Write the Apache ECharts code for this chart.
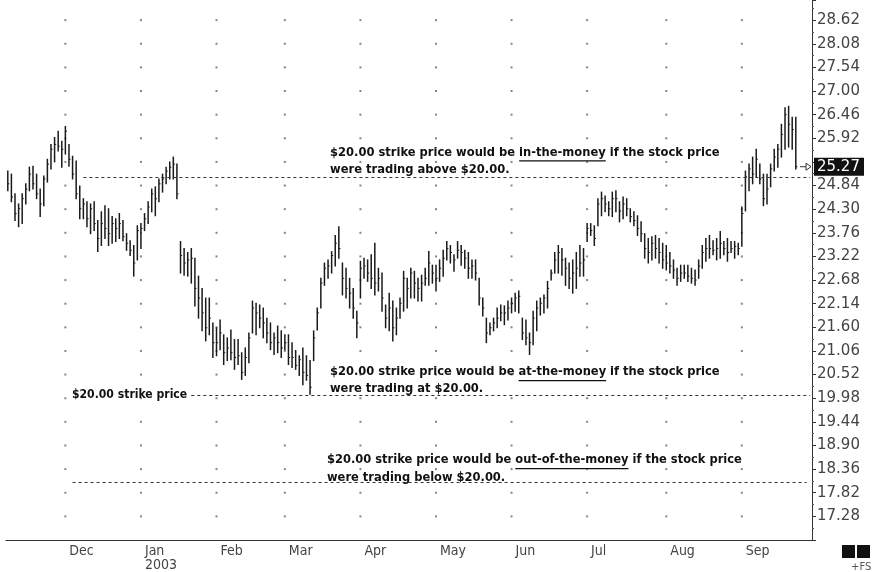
<!DOCTYPE html>
<html>
<head>
<meta charset="utf-8">
<script src="https://cdn.jsdelivr.net/npm/echarts@6/dist/echarts.min.js"></script>
<style>
  html, body { margin: 0; padding: 0; background: #fff; }
  #chart { width: 874px; height: 572px; }
</style>
</head>
<body>
<div id="chart"></div>
<script>
// --- trading calendar ---
const firstDay = '2002-11-07';
const lastDay = '2003-09-23';
const holidays = ['2002-11-28', '2002-12-25', '2003-01-01', '2003-01-20', '2003-02-17',
  '2003-04-18', '2003-05-26', '2003-07-04', '2003-09-01'];
const padDays = 4; // empty room before the price axis
const monthNames = ['Jan', 'Feb', 'Mar', 'Apr', 'May', 'Jun', 'Jul', 'Aug', 'Sep', 'Oct', 'Nov', 'Dec'];

// --- price axis ---
const priceMin = 16.74;
const priceMax = 29.08;
const priceStep = 0.54;
const priceTicks = [17.28, 17.82, 18.36, 18.90, 19.44, 19.98, 20.52, 21.06, 21.60, 22.14, 22.68,
  23.22, 23.76, 24.30, 24.84, 25.38, 25.92, 26.46, 27.00, 27.54, 28.08, 28.62];

// --- daily bars ---
const highs = [
  25.17, 25.10, 24.65, 24.42, 24.65, 24.88, 25.26, 25.28, 25.10, 24.76, 25.06, 25.44, 25.78, 25.94, 26.08, 25.85,
  26.19, 25.78, 25.51, 25.40, 24.83, 24.54, 24.47, 24.42, 24.47, 24.04, 24.24, 24.38, 24.31, 24.13, 24.08, 24.20, 24.04, 23.74, 23.58, 23.47, 23.92,
  23.97, 24.20, 24.47, 24.76, 24.81, 24.99, 25.10, 25.26, 25.38, 25.49, 25.33, 23.56, 23.40, 23.31, 23.40, 23.18, 22.77, 22.49, 22.27, 22.27, 21.70,
  21.59, 21.77, 21.43, 21.36, 21.54, 21.32, 21.32, 21.02, 21.13, 21.47, 22.20, 22.15, 22.11, 22.04, 21.81, 21.70, 21.47, 21.63, 21.52,
  21.43, 21.43, 21.25, 21.07, 20.95, 21.13, 20.95, 20.84, 21.52, 22.04, 22.72, 23.07, 23.14, 23.33, 23.70, 23.90, 23.07, 22.95, 22.72, 22.49, 21.97,
  23.11, 23.18, 23.14, 23.26, 23.52, 22.95, 22.84, 22.11, 22.38, 22.20, 22.04, 22.27, 22.88, 22.72, 22.95, 22.88, 22.72, 22.79, 22.95, 23.33, 23.02,
  23.02, 23.14, 23.36, 23.56, 23.47, 23.26, 23.56, 23.47, 23.36, 23.31, 23.14, 23.14, 22.72, 22.27, 21.81, 21.70, 21.81, 22.04, 22.11, 22.09, 22.20,
  22.27, 22.38, 22.43, 21.81, 21.77, 21.47, 21.97, 22.20, 22.27, 22.34, 22.65, 22.91, 23.31, 23.47, 23.40, 23.18, 23.07, 23.14, 23.31, 23.47, 23.40,
  23.97, 23.97, 23.92, 24.54, 24.69, 24.60, 24.47, 24.69, 24.72, 24.47, 24.58, 24.54, 24.31, 24.24, 24.15, 24.01, 23.74, 23.63, 23.67, 23.70, 23.63, 23.52,
  23.47, 23.31, 23.14, 22.95, 23.02, 23.02, 23.02, 22.95, 22.91, 23.14, 23.47, 23.63, 23.70, 23.58, 23.63, 23.79, 23.56, 23.63, 23.56, 23.56, 23.52,
  24.35, 25.17, 25.33, 25.49, 25.67, 25.33, 25.10, 25.10, 25.33, 25.67, 25.78, 26.24, 26.62, 26.65, 26.40, 26.40
];
const lows = [
  24.72, 24.47, 24.04, 23.90, 23.97, 24.42, 24.72, 24.76, 24.54, 24.13, 24.38, 24.92, 25.22, 25.38, 25.63, 25.26,
  25.56, 25.28, 24.99, 24.54, 24.08, 24.08, 23.90, 23.74, 23.81, 23.33, 23.47, 23.63, 23.47, 23.52, 23.56, 23.63, 23.58, 23.36, 23.24, 22.77, 23.14,
  23.40, 23.81, 23.97, 24.24, 24.15, 24.47, 24.69, 24.88, 24.99, 24.99, 24.54, 22.84, 22.79, 22.77, 22.61, 22.09, 21.81, 21.52, 21.29, 21.43, 20.91,
  20.95, 21.09, 20.75, 20.84, 20.86, 20.64, 20.75, 20.41, 20.50, 20.79, 21.47, 21.43, 21.59, 21.36, 21.25, 21.09, 20.98, 21.02, 20.91,
  21.09, 20.75, 20.68, 20.64, 20.50, 20.29, 20.39, 20.07, 20.84, 21.54, 22.04, 22.56, 22.72, 22.84, 23.00, 23.18, 22.34, 22.27, 22.04, 21.81, 21.36,
  22.27, 22.72, 22.65, 22.49, 22.34, 22.43, 21.97, 21.59, 21.52, 21.29, 21.43, 21.81, 21.97, 22.04, 22.27, 22.27, 22.20, 22.20, 22.56, 22.56, 22.61,
  22.43, 22.65, 22.77, 23.14, 23.07, 22.88, 23.18, 23.02, 22.95, 22.72, 22.72, 22.68, 22.11, 21.86, 21.25, 21.43, 21.52, 21.59, 21.75, 21.66, 21.77,
  21.93, 21.97, 21.93, 21.32, 21.20, 20.98, 21.20, 21.52, 21.88, 21.93, 22.04, 22.68, 22.84, 22.84, 22.79, 22.56, 22.49, 22.38, 22.49, 22.77, 22.77,
  23.56, 23.70, 23.47, 23.92, 24.15, 24.24, 24.15, 24.13, 24.24, 24.01, 24.08, 24.15, 24.01, 23.92, 23.70, 23.56, 23.18, 23.07, 23.14, 23.18, 23.07, 22.95,
  22.91, 22.84, 22.72, 22.56, 22.65, 22.72, 22.65, 22.61, 22.56, 22.72, 22.95, 23.11, 23.18, 23.26, 23.14, 23.18, 23.26, 23.11, 23.31, 23.18, 23.26,
  23.45, 24.26, 24.72, 24.88, 25.04, 24.88, 24.38, 24.42, 24.81, 25.17, 25.26, 25.49, 25.67, 25.72, 25.67, 25.22
];
const closes = [
  24.88, 24.58, 24.20, 24.31, 24.54, 24.76, 25.10, 24.88, 24.65, 24.42, 24.99, 25.33, 25.67, 25.78, 25.74, 25.67,
  26.08, 25.44, 25.10, 24.65, 24.31, 24.42, 24.08, 24.31, 23.97, 23.63, 23.97, 23.86, 23.74, 23.97, 23.86, 23.97, 23.67, 23.52, 23.36, 23.07, 23.81,
  23.86, 24.08, 24.35, 24.65, 24.54, 24.88, 24.99, 25.17, 25.26, 25.33, 24.65, 23.24, 23.07, 23.14, 23.18, 22.49, 22.27, 21.93, 21.59, 21.81, 21.25,
  21.25, 21.47, 21.02, 21.13, 21.02, 20.91, 20.95, 20.57, 20.91, 21.36, 22.04, 21.93, 21.81, 21.70, 21.47, 21.25, 21.36, 21.25, 21.13,
  21.25, 20.91, 20.91, 20.73, 20.86, 20.57, 20.50, 20.23, 21.36, 21.93, 22.61, 22.95, 23.00, 23.24, 23.52, 23.40, 22.72, 22.49, 22.38, 22.04, 21.70,
  22.95, 23.00, 22.84, 22.72, 22.61, 22.72, 22.27, 21.81, 22.04, 21.59, 21.81, 22.15, 22.72, 22.49, 22.84, 22.61, 22.49, 22.61, 22.72, 23.07, 22.84,
  22.72, 22.95, 23.18, 23.40, 23.31, 23.14, 23.36, 23.31, 23.18, 22.95, 23.00, 22.84, 22.27, 22.04, 21.47, 21.59, 21.70, 21.81, 21.93, 21.93, 22.04,
  22.15, 22.27, 22.31, 21.47, 21.36, 21.25, 21.81, 22.04, 22.15, 22.27, 22.49, 22.84, 23.14, 23.31, 23.14, 22.95, 22.72, 22.84, 22.95, 23.07, 23.14,
  23.86, 23.81, 23.63, 24.42, 24.54, 24.42, 24.31, 24.54, 24.54, 24.26, 24.42, 24.31, 24.13, 24.04, 23.86, 23.74, 23.40, 23.31, 23.52, 23.40, 23.31, 23.14,
  23.07, 23.00, 22.91, 22.72, 22.84, 22.84, 22.77, 22.72, 22.68, 23.00, 23.31, 23.40, 23.40, 23.36, 23.40, 23.52, 23.40, 23.31, 23.40, 23.45, 23.40,
  24.20, 25.04, 25.22, 25.10, 25.44, 24.99, 24.54, 24.76, 25.22, 25.49, 25.67, 26.01, 26.46, 26.24, 26.12, 25.27
];

// --- strike price guide lines: level, first bar, last bar ---
const strikeLevels = [25.03, 20.05, 18.07];
const strikeFrom = [21, 51, 18];
const strikeTo = [223, 223, 222];

// --- annotation texts ---
const noteLines = [
  ['$20.00 strike price would be ', 'in-the-money', ' if the stock price', 'were trading above $20.00.'],
  ['$20.00 strike price would be ', 'at-the-money', ' if the stock price', 'were trading at $20.00.'],
  ['$20.00 strike price would be ', 'out-of-the-money', ' if the stock price', 'were trading below $20.00.']
];
const strikeLabel = '$20.00 strike price';

// build the category list of trading days
function isoDay(d) { return d.toISOString().slice(0, 10); }
const dates = [];
(function () {
  const d = new Date(firstDay + 'T00:00:00Z');
  const end = new Date(lastDay + 'T00:00:00Z');
  while (d <= end) {
    const wd = d.getUTCDay();
    if (wd !== 0 && wd !== 6 && holidays.indexOf(isoDay(d)) < 0) dates.push(isoDay(d));
    d.setUTCDate(d.getUTCDate() + 1);
  }
  let extra = 0;
  while (extra < padDays) {
    d.setUTCDate(d.getUTCDate() + 1);
    const wd = d.getUTCDay();
    if (wd !== 0 && wd !== 6) { dates.push(isoDay(d)); extra++; }
  }
})();

const monthStarts = [];
dates.forEach(function (d, i) {
  if (i > 0 && d.slice(5, 7) !== dates[i - 1].slice(5, 7)) monthStarts.push(i);
});
function isMonthStart(i) { return monthStarts.indexOf(i) >= 0; }
function monthLabel(i) {
  const m = parseInt(dates[i].slice(5, 7), 10) - 1;
  return m === 0 ? monthNames[m] + '\n' + dates[i].slice(0, 4) : monthNames[m];
}

const lastClose = closes[closes.length - 1];
const barData = highs.map(function (h, i) { return [i, h, lows[i], closes[i]]; });
const dotData = [];
monthStarts.forEach(function (m) {
  priceTicks.forEach(function (t) { dotData.push([m, t]); });
});

function renderBar(params, api) {
  const hi = api.coord([api.value(0), api.value(1)]);
  const lo = api.coord([api.value(0), api.value(2)]);
  const cl = api.coord([api.value(0), api.value(3)]);
  const w = api.size([1, 0])[0] * 0.45;
  return {
    type: 'group',
    children: [
      { type: 'line', shape: { x1: hi[0], y1: hi[1] - 0.5, x2: lo[0], y2: lo[1] + 0.5 }, style: { stroke: '#1a1a1a', lineWidth: 1.5 } },
      { type: 'line', shape: { x1: cl[0], y1: cl[1], x2: cl[0] + w, y2: cl[1] }, style: { stroke: '#1a1a1a', lineWidth: 1 } }
    ]
  };
}

const condensedFont = '"DejaVu Sans Condensed", "Liberation Sans Narrow", "DejaVu Sans", sans-serif';

const chart = echarts.init(document.getElementById('chart'));
chart.setOption({
  animation: false,
  backgroundColor: '#fff',
  grid: { left: 6, right: 62, top: 0, bottom: 28 },
  xAxis: {
    type: 'category',
    data: dates,
    boundaryGap: true,
    axisLine: { lineStyle: { color: '#333', width: 1 } },
    axisTick: { interval: function (i) { return isMonthStart(i); }, alignWithLabel: true, length: 5, lineStyle: { color: '#333' } },
    axisLabel: {
      interval: function (i) { return isMonthStart(i); },
      formatter: function (v, i) { return monthLabel(i); },
      align: 'left',
      padding: [0, 0, 0, 4],
      margin: 4,
      color: '#444',
      fontSize: 14,
      lineHeight: 14,
      fontFamily: condensedFont
    },
    splitLine: { show: false }
  },
  yAxis: {
    type: 'value',
    position: 'right',
    min: priceMin,
    max: priceMax,
    interval: priceStep,
    axisLine: { show: true, lineStyle: { color: '#333' } },
    axisTick: { show: true, length: 4, lineStyle: { color: '#333' } },
    minorTick: { show: true, splitNumber: 2, length: 2, lineStyle: { color: '#555' } },
    splitLine: { show: false },
    axisLabel: {
      color: '#444',
      fontSize: 15,
      fontFamily: '"DejaVu Sans", sans-serif',
      margin: 5,
      showMaxLabel: false,
      showMinLabel: false,
      // the label under the last-price tag is covered in the picture
      formatter: function (v) { return Math.abs(v - lastClose) < 0.2 ? '' : v.toFixed(2); }
    }
  },
  series: [
    {
      type: 'scatter',
      data: dotData,
      symbol: 'rect',
      symbolSize: 2,
      itemStyle: { color: '#666' },
      silent: true,
      z: 1
    },
    {
      type: 'custom',
      data: barData,
      renderItem: renderBar,
      encode: { x: 0, y: [1, 2, 3] },
      silent: true,
      z: 3,
      markLine: {
        silent: true,
        symbol: 'none',
        label: { show: false },
        lineStyle: { color: '#333', type: [3, 3], width: 1 },
        data: strikeLevels.map(function (v, k) {
          return [{ coord: [strikeFrom[k], v] }, { coord: [strikeTo[k], v] }];
        })
      }
    }
  ]
});

// --- annotations ---
const measureCtx = document.createElement('canvas').getContext('2d');
function textWidth(str, font) { measureCtx.font = font; return measureCtx.measureText(str).width; }
function fitFont(str, weight, family, target) {
  const size = 100 * target / textWidth(str, weight + ' 100px ' + family);
  return { font: weight + ' ' + size.toFixed(2) + 'px ' + family, size: size };
}

const wideFamily = '"DejaVu Sans", sans-serif';
const noteBoxes = [
  { x: 330, y: 153, w: 390, gap: 17, family: wideFamily },
  { x: 330, y: 372, w: 390, gap: 17, family: condensedFont },
  { x: 327, y: 460, w: 415, gap: 18, family: condensedFont }
];

const graphics = [];
function addText(x, y, str, font, fill) {
  graphics.push({
    type: 'text', x: x, y: y, z: 50,
    style: { text: str, font: font, fill: fill || '#111', textAlign: 'left', align: 'left', textVerticalAlign: 'middle', verticalAlign: 'middle' }
  });
}

noteLines.forEach(function (parts, k) {
  const b = noteBoxes[k];
  const f = fitFont(parts[0] + parts[1] + parts[2], 'bold', b.family, b.w);
  const w0 = textWidth(parts[0], f.font);
  const w1 = textWidth(parts[1], f.font);
  addText(b.x, b.y, parts[0], f.font);
  addText(b.x + w0, b.y, parts[1], f.font);
  addText(b.x + w0 + w1, b.y, parts[2], f.font);
  addText(b.x, b.y + b.gap, parts[3], f.font);
  graphics.push({
    type: 'line', z: 50,
    shape: { x1: b.x + w0, y1: b.y + f.size * 0.68, x2: b.x + w0 + w1, y2: b.y + f.size * 0.68 },
    style: { stroke: '#111', lineWidth: 1.2 }
  });
});

const yStrike = chart.convertToPixel({ yAxisIndex: 0 }, strikeLevels[1]);
const xStrikeStart = chart.convertToPixel({ xAxisIndex: 0 }, strikeFrom[1]);
addText(72, yStrike, strikeLabel, fitFont(strikeLabel, 'bold', condensedFont, Math.min(118, xStrikeStart - 76)).font);

// last price tag on the axis
const yLast = chart.convertToPixel({ yAxisIndex: 0 }, lastClose);
const axisX = 874 - 62;
graphics.push({ type: 'rect', z: 60, shape: { x: axisX + 2, y: yLast - 9, width: 50, height: 18 }, style: { fill: '#111' } });
addText(axisX + 5, yLast, lastClose.toFixed(2), '15px "DejaVu Sans", sans-serif', '#fff');
graphics[graphics.length - 1].z = 61;
graphics.push({ type: 'line', z: 60, shape: { x1: axisX - 12, y1: yLast, x2: axisX - 6, y2: yLast }, style: { stroke: '#333', lineWidth: 1 } });
graphics.push({ type: 'polygon', z: 60, shape: { points: [[axisX - 6, yLast - 3.5], [axisX - 1, yLast], [axisX - 6, yLast + 3.5]] }, style: { fill: '#fff', stroke: '#333', lineWidth: 1 } });

// software marks below the price axis
graphics.push({ type: 'rect', z: 60, shape: { x: 842, y: 545, width: 13, height: 13 }, style: { fill: '#111' } });
graphics.push({ type: 'rect', z: 60, shape: { x: 857, y: 545, width: 13, height: 13 }, style: { fill: '#111' } });
addText(851, 567, '+FS', '10px "DejaVu Sans", sans-serif', '#555');

chart.setOption({ graphic: graphics });
</script>
</body>
</html>
